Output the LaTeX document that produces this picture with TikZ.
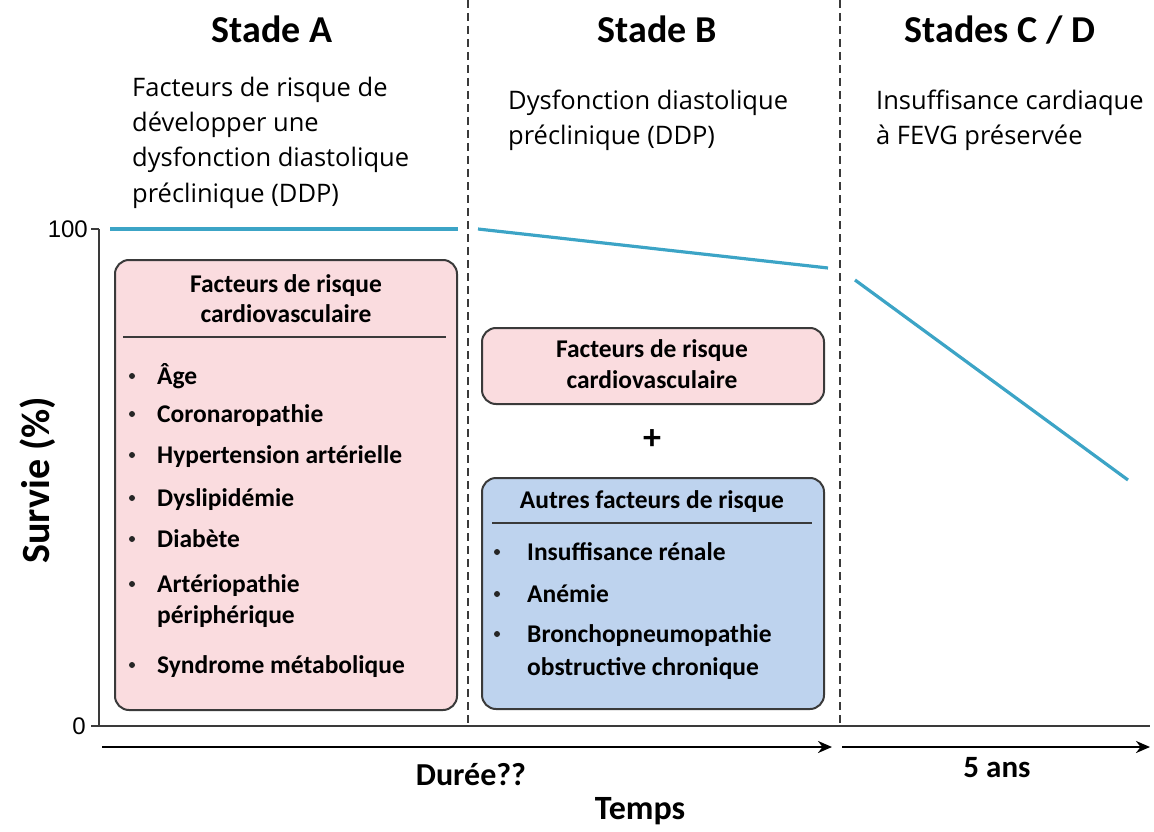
\documentclass[tikz,border=0pt]{standalone}
\usepackage{fontspec}
\setmainfont{Carlito}
\newfontfamily\subfont{Open Sans}
\newfontfamily\numfont{Liberation Sans}
\usepackage{tikz}
\usetikzlibrary{arrows.meta}

\definecolor{rosefill}{HTML}{FADCDF}
\definecolor{bluefill}{HTML}{BED3EE}
\definecolor{boxline}{HTML}{3A3A3A}
\definecolor{curve}{HTML}{3CA4C6}

\tikzset{
  pinkbox/.style = {draw=boxline, fill=rosefill, line width=2pt, rounded corners=14pt, anchor=north west, inner sep=0pt},
  bluebox/.style = {draw=boxline, fill=bluefill, line width=2pt, rounded corners=14pt, anchor=north west, inner sep=0pt},
  boxtitle/.style = {font=\fontsize{25.5}{30}\selectfont\bfseries, anchor=base, inner sep=0pt},
  itemtext/.style = {font=\fontsize{25.5}{30}\selectfont\bfseries, anchor=base west, inner sep=0pt},
  itemdot/.style = {circle, fill=black!85, inner sep=0pt, minimum size=6pt},
  stagehead/.style = {font=\fontsize{38}{44}\selectfont\bfseries, anchor=base, inner sep=0pt},
  stagetext/.style = {font=\subfont\fontsize{25.5}{35}\selectfont, anchor=base west, inner sep=0pt},
  divider/.style = {line width=2pt, boxline, dash pattern=on 8pt off 5pt},
  timearrow/.style = {line width=2.4pt, -{Stealth[length=14pt,width=12pt]}}
}

\begin{document}
\begin{tikzpicture}[x=1pt,y=-1pt]
\useasboundingbox (0,0) rectangle (1154,832);

% stages
\node[stagehead] (headA) at (272,43) {Stade A};
\node[stagehead] (headB) at (657,43) {Stade B};
\node[stagehead] (headCD) at (1000,43) {Stades C / D};

\node[stagetext] (txtA1) at (132,97) {Facteurs de risque de};
\node[stagetext] (txtA2) at (132,132) {développer une};
\node[stagetext] (txtA3) at (132,167) {dysfonction diastolique};
\node[stagetext] (txtA4) at (132,202) {préclinique (DDP)};
\node[stagetext] (txtB1) at (508,110) {Dysfonction diastolique};
\node[stagetext] (txtB2) at (508,145) {préclinique (DDP)};
\node[stagetext] (txtCD1) at (876,110) {Insuffisance cardiaque};
\node[stagetext] (txtCD2) at (876,145) {à FEVG préservée};

% axes
\coordinate (ytop) at (99,229);
\coordinate (origin) at (99,726);
\coordinate (xend) at (1150,726);
\draw[line width=2pt, boxline] (ytop) -- (origin) -- (xend);
\draw[line width=2pt, boxline] (ytop) -- ++(-8,0);
\draw[line width=2pt, boxline] (origin) -- ++(-8,0);
\node[font=\numfont\fontsize{24}{26}\selectfont, anchor=east, inner sep=0pt] (lab100) at (88,229) {100};
\node[font=\numfont\fontsize{24}{26}\selectfont, anchor=east, inner sep=0pt] (lab0) at (86,726) {0};
\node[font=\fontsize{40}{42}\selectfont\bfseries, rotate=90, inner sep=0pt] (survie) at (38,480) {Survie (\%)};

% stage dividers
\coordinate (divAtop) at (468,0);
\coordinate (divAbot) at (468,726);
\coordinate (divBtop) at (840,0);
\coordinate (divBbot) at (840,726);
\draw[divider] (divAtop) -- (divAbot);
\draw[divider] (divBtop) -- (divBbot);

% survival curve
\coordinate (s0) at (110,229);
\coordinate (s1) at (458,229);
\coordinate (s2) at (478,229);
\coordinate (s3) at (828,268);
\coordinate (s4) at (855,280);
\coordinate (s5) at (1128,480);
\draw[curve, line width=3.2pt] (s0) -- (s1);
\draw[curve, line width=3.2pt] (s2) -- (s3);
\draw[curve, line width=3.2pt] (s4) -- (s5);

% stage A box
\node[pinkbox, minimum width=342pt, minimum height=450pt] (boxA) at (114,259) {};
\node[boxtitle] (boxAt1) at (286,292) {Facteurs de risque};
\node[boxtitle] (boxAt2) at (286,322) {cardiovasculaire};
\draw[line width=1.6pt, boxline] (123,337) -- (446,337);
\foreach \name/\txt/\y in {a1/Âge/384, a2/Coronaropathie/422, a3/Hypertension artérielle/463,
    a4/Dyslipidémie/506, a5/Diabète/547, a6/Artériopathie/592, a8/Syndrome métabolique/673}{
  \node[itemdot] (dot\name) at (132,\y-8) {};
  \node[itemtext] (\name) at (157,\y) {\txt};
}
\node[itemtext] (a7) at (157,623) {périphérique};

% stage B boxes
\node[pinkbox, minimum width=342pt, minimum height=76pt] (boxB) at (481,327) {};
\node[boxtitle] (boxBt1) at (652,357) {Facteurs de risque};
\node[boxtitle] (boxBt2) at (652,388) {cardiovasculaire};
\node[font=\fontsize{36}{38}\selectfont\bfseries, inner sep=0pt] (plus) at (652,440) {+};
\node[bluebox, minimum width=342pt, minimum height=231pt] (boxC) at (481,477) {};
\node[boxtitle] (boxCt) at (652,508) {Autres facteurs de risque};
\draw[line width=1.6pt, boxline] (492,523) -- (812,523);
\foreach \name/\txt/\y in {b1/Insuffisance rénale/560, b2/Anémie/602, b3/Bronchopneumopathie/642}{
  \node[itemdot] (dot\name) at (497,\y-8) {};
  \node[itemtext] (\name) at (527,\y) {\txt};
}
\node[itemtext] (b4) at (527,675) {obstructive chronique};

% time arrows
\coordinate (t0) at (102,747);
\coordinate (t1) at (832,747);
\coordinate (t2) at (842,747);
\coordinate (t3) at (1150,747);
\draw[timearrow] (t0) -- (t1);
\draw[timearrow] (t2) -- (t3);
\node[font=\fontsize{32}{34}\selectfont\bfseries, anchor=base, inner sep=0pt] (duree) at (471,785) {Durée??};
\node[font=\fontsize{31}{34}\selectfont\bfseries, anchor=base, inner sep=0pt] (cinq) at (997,777) {5 ans};
\node[font=\fontsize{34}{36}\selectfont\bfseries, anchor=base, inner sep=0pt] (temps) at (640,819) {Temps};
\end{tikzpicture}
\end{document}
